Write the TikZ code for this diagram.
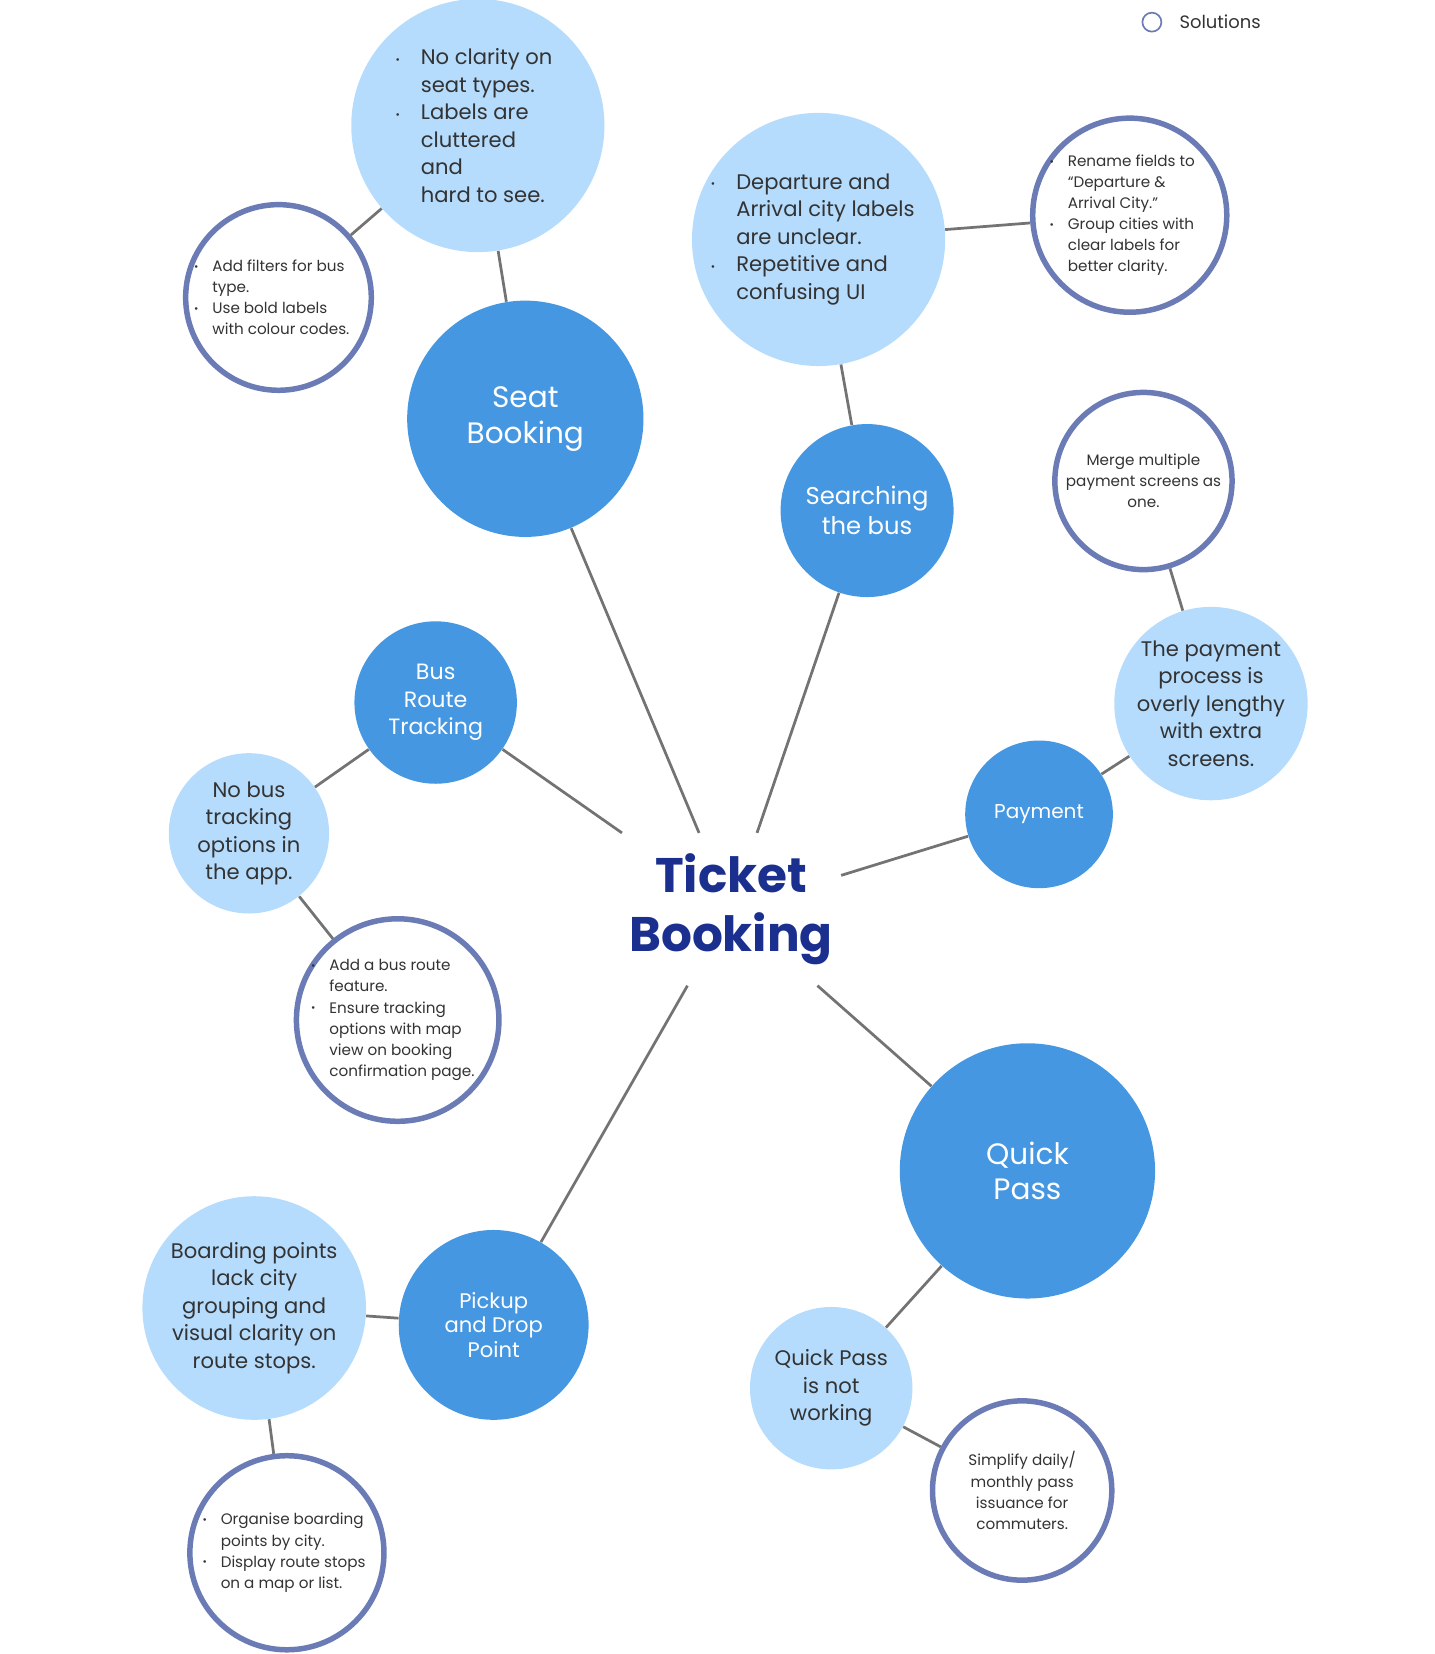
\documentclass[tikz,border=0pt]{standalone}
\usepackage{fontspec}
\setmainfont{Poppins}
\usepackage{tikz}
\usetikzlibrary{positioning}
\definecolor{darkblue}{HTML}{4697E2}
\definecolor{lightblue}{HTML}{B5DCFD}
\definecolor{ring}{HTML}{6B7BB5}
\definecolor{titleblue}{HTML}{1B2F8F}
\definecolor{textgray}{HTML}{333333}
\newcommand{\bul}[1]{{\hangindent=1.2em\hangafter=1\noindent\makebox[1.2em][l]{\raisebox{.15ex}{\tiny\textbullet}}#1\par}}

\begin{document}
\begin{tikzpicture}[
    x=0.5pt, y=-0.5pt,
    feature/.style={circle, fill=darkblue, text=white, align=center, inner sep=0pt},
    problem/.style={circle, fill=lightblue, text=textgray, align=center, inner sep=0pt, font=\fontsize{10}{13}\selectfont},
    solution/.style={circle, draw=ring, line width=2.6pt, fill=white, text=textgray, align=center, inner sep=0pt, font=\fontsize{7.2}{10}\selectfont},
    tight/.style={inner sep=-10pt},
    link/.style={draw=gray!90!black, line width=1.3pt}
]
\useasboundingbox (0,0) rectangle (1360,1568);

% centre
\node[minimum width=104pt, minimum height=72pt, inner sep=0pt, align=center, text=titleblue,
      font=\fontsize{23}{28}\selectfont\bfseries] (tb) at (693,862) {Ticket\\Booking};

% seat booking
\node[feature, minimum size=112pt, font=\fontsize{14}{17}\selectfont] (seat) at (498,397) {Seat\\Booking};
\node[problem, tight, minimum size=120pt] (seatp) at (453,119) {\parbox{78pt}{\raggedright
  \bul{No clarity on\newline seat types.}\bul{Labels are\newline cluttered and\newline hard to see.}}};
\node[solution, tight, minimum size=88pt] (seats) at (264,282) {\parbox{80pt}{\raggedright
  \bul{Add filters for bus\newline type.}\bul{Use bold labels\newline with colour codes.}}};

% searching
\node[feature, minimum size=82pt, font=\fontsize{11.5}{14}\selectfont] (search) at (822,484) {Searching\\the bus};
\node[problem, tight, minimum size=120pt] (searchp) at (776,227) {\parbox{102pt}{\raggedright
  \bul{Departure and\newline Arrival city labels\newline are unclear.}\bul{Repetitive and\newline confusing UI}}};
\node[solution, tight, minimum size=92pt] (searchs) at (1071,204) {\parbox{76pt}{\raggedright
  \bul{Rename fields to\newline “Departure \&\newline Arrival City.”}\bul{Group cities with\newline clear labels for\newline better clarity.}}};

% payment
\node[feature, minimum size=70pt, font=\fontsize{9.5}{12}\selectfont] (pay) at (985,772) {Payment};
\node[problem, minimum size=88pt] (payp) at (1148,667) {The payment\\process is\\overly lengthy\\with extra\\screens.};
\node[solution, minimum size=84pt] (pays) at (1084,456) {Merge multiple\\payment screens as\\one.};

% quick pass
\node[feature, minimum size=121pt, font=\fontsize{14}{17}\selectfont] (quick) at (974,1110) {Quick\\Pass};
\node[problem, minimum size=77pt] (quickp) at (788,1316) {Quick Pass\\is not\\working};
\node[solution, minimum size=85pt] (quicks) at (969,1413) {Simplify daily/\\monthly pass\\issuance for\\commuters.};

% pickup
\node[feature, minimum size=90pt, font=\fontsize{10}{11.5}\selectfont] (pick) at (468,1256) {Pickup\\and Drop\\Point};
\node[problem, minimum size=106pt] (pickp) at (241,1240) {Boarding points\\lack city\\grouping and\\visual clarity on\\route stops.};
\node[solution, tight, minimum size=92pt] (picks) at (272,1472) {\parbox{80pt}{\raggedright
  \bul{Organise boarding\newline points by city.}\bul{Display route stops\newline on a map or list.}}};

% bus route
\node[feature, minimum size=77pt, font=\fontsize{10.5}{13}\selectfont] (route) at (413,666) {Bus\\Route\\Tracking};
\node[problem, minimum size=76pt] (routep) at (236,790) {No bus\\tracking\\options in\\the app.};
\node[solution, tight, minimum size=96pt] (routes) at (377,967) {\parbox{82pt}{\raggedright
  \bul{Add a bus route\newline feature.}\bul{Ensure tracking\newline options with map\newline view on booking\newline confirmation page.}}};

% legend
\node[circle, fill=lightblue, minimum size=9pt, inner sep=0pt] (legp) at (1092,-12) {};
\node[circle, draw=ring, line width=0.8pt, minimum size=9pt, inner sep=0pt] (legs) at (1092,21) {};
\node[right=8pt of legs, inner sep=0pt, text=textgray, font=\fontsize{8.5}{10}\selectfont] (legt) {Solutions};

% connectors
\path[link] (tb) -- (seat) (tb) -- (search) (tb) -- (pay) (tb) -- (quick) (tb) -- (pick) (tb) -- (route)
  (seat) -- (seatp) (seatp) -- (seats)
  (search) -- (searchp) (searchp) -- (searchs)
  (pay) -- (payp) (payp) -- (pays)
  (quick) -- (quickp) (quickp) -- (quicks)
  (pick) -- (pickp) (pickp) -- (picks)
  (route) -- (routep) (routep) -- (routes);
\end{tikzpicture}
\end{document}
